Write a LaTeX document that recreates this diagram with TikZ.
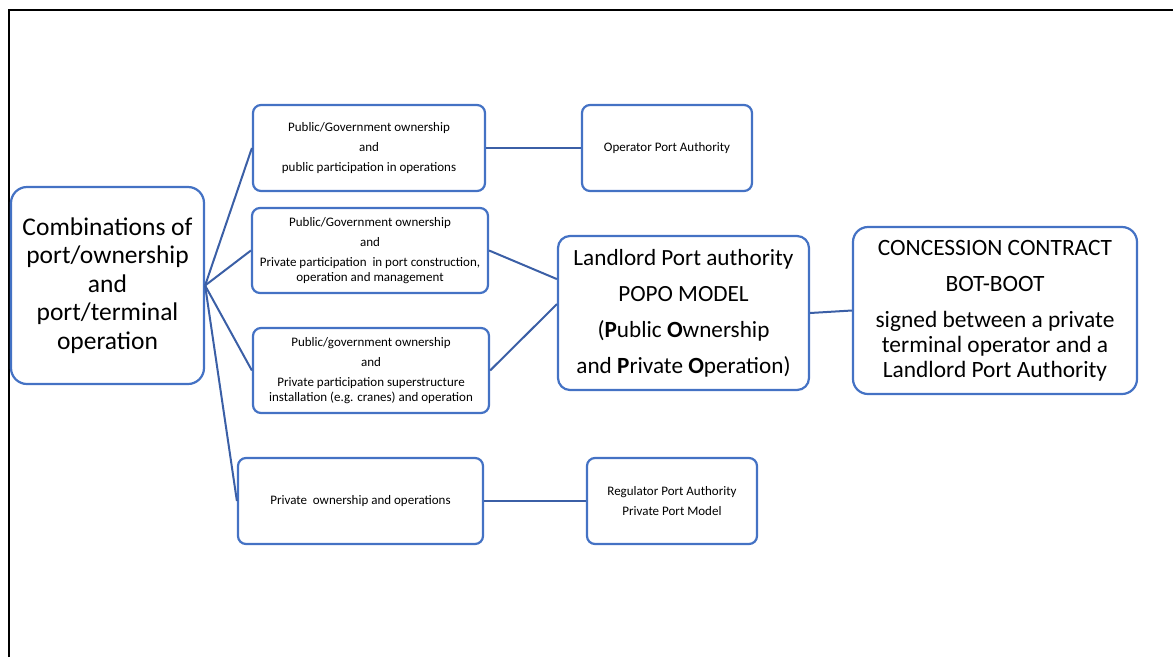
\documentclass[tikz,border=0pt]{standalone}
\usepackage{fontspec}
\setmainfont{Carlito}
\usetikzlibrary{positioning}
\definecolor{boxblue}{HTML}{4472C4}
\definecolor{lineblue}{HTML}{3B5FA6}

\begin{document}
\begin{tikzpicture}[
        x=1pt, y=-1pt,
        % Styles
        box/.style={% For the small boxes
            rectangle,
            rounded corners=8pt,
            draw=boxblue,
            line width=2.2pt,
            align=center,
            inner sep=2pt,
            font=\fontsize{13}{14.5}\selectfont,
            },
        bigbox/.style={% For the large boxes
            box,
            rounded corners=14pt,
            },
        link/.style={% For the connectors
            draw=lineblue,
            line width=2pt,
            },
        ]

    % Frame
        \useasboundingbox (0,0) rectangle (1173,657);
        \draw [line width=1.5pt] (9,657) -- (9,10) -- (1173,10);

    % Nodes
        % The root box
        \node [bigbox, rounded corners=16pt, minimum width=193pt, minimum height=197pt,
            font=\fontsize{25.5}{28.5}\selectfont] (combo) at (107.5,285.5)
            {Combinations of\\port/ownership\\and\\port/terminal\\operation};

        % The ownership boxes
        \node [box, minimum width=232pt, minimum height=86pt] (pubops) at (369,148)
            {Public/Government ownership\\[5.5pt]and\\[5.5pt]public participation in operations};
        \node [box, minimum width=236pt, minimum height=85pt] (landcon) at (370,250.5)
            {Public/Government ownership\\[5.5pt]and\\[5.5pt]Private participation\ \ in port construction,\\operation and management};
        \node [box, minimum width=236pt, minimum height=85pt] (superstr) at (371,370.5)
            {Public/government ownership\\[5.5pt]and\\[5.5pt]Private participation superstructure\\installation (e.g. cranes) and operation};
        \node [box, minimum width=245pt, minimum height=86pt] (privown) at (360.5,501)
            {Private\ \ ownership and operations};

        % The port models
        \node [box, minimum width=170pt, minimum height=86pt] (operator) at (667,148)
            {Operator Port Authority};
        \node [bigbox, rounded corners=12pt, minimum width=251pt, minimum height=154pt,
            font=\fontsize{23.2}{36}\selectfont] (landlord) at (683.5,313)
            {Landlord Port authority\\POPO MODEL\\(\textbf{P}ublic \textbf{O}wnership\\and \textbf{P}rivate \textbf{O}peration)};
        \node [box, minimum width=170pt, minimum height=86pt] (regulator) at (672,501)
            {Regulator Port Authority\\[5.5pt]Private Port Model};

        % The contract
        \node [bigbox, rounded corners=15pt, minimum width=284pt, minimum height=167pt,
            font=\fontsize{23.4}{25}\selectfont] (concession) at (995,310.5)
            {CONCESSION CONTRACT\\[11pt]BOT-BOOT\\[11pt]signed between a private\\terminal operator and a\\Landlord Port Authority};

    % Connectors
        \draw [link] (combo.east) -- (pubops.west);
        \draw [link] (combo.east) -- (landcon.west);
        \draw [link] (combo.east) -- (superstr.west);
        \draw [link] (combo.east) -- (privown.west);

        \draw [link] (pubops.east) -- (operator.west);
        \draw [link] (landcon.east) -- (landlord.165);
        \draw [link] (superstr.east) -- (landlord.176);
        \draw [link] (privown.east) -- (regulator.west);
        \draw [link] (landlord.east) -- (concession.west);

\end{tikzpicture}
\end{document}
